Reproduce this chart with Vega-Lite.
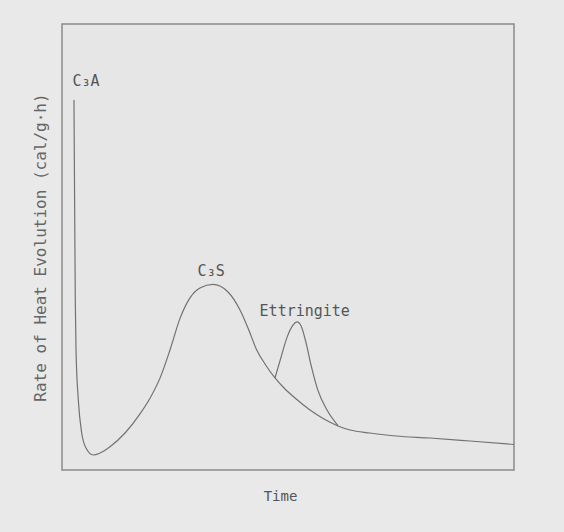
{
  "$schema": "https://vega.github.io/schema/vega-lite/v6.json",
  "width": 452,
  "height": 446,
  "autosize": {"type": "none"},
  "padding": {"left": 62, "top": 24, "right": 50, "bottom": 62},
  "background": "#e9e9e9",
  "config": {
    "view": {"stroke": "#8a8a8a", "strokeWidth": 1.5, "fill": "#e6e6e6"},
    "font": "DejaVu Sans Mono"
  },
  "datasets": {
    "curves": [
      {"series": "main", "t": 2.65, "rate": 82.96},
      {"series": "main", "t": 2.79, "rate": 60.54},
      {"series": "main", "t": 2.94, "rate": 38.12},
      {"series": "main", "t": 3.10, "rate": 26.91},
      {"series": "main", "t": 3.61, "rate": 15.70},
      {"series": "main", "t": 4.36, "rate": 8.30},
      {"series": "main", "t": 5.31, "rate": 4.93},
      {"series": "main", "t": 6.92, "rate": 3.36},
      {"series": "main", "t": 8.41, "rate": 3.81},
      {"series": "main", "t": 10.62, "rate": 5.22},
      {"series": "main", "t": 13.94, "rate": 8.30},
      {"series": "main", "t": 17.26, "rate": 12.6},
      {"series": "main", "t": 19.47, "rate": 16.1},
      {"series": "main", "t": 21.68, "rate": 20.6},
      {"series": "main", "t": 23.89, "rate": 26.9},
      {"series": "main", "t": 26.11, "rate": 34.0},
      {"series": "main", "t": 28.32, "rate": 38.6},
      {"series": "main", "t": 30.53, "rate": 40.8},
      {"series": "main", "t": 33.4, "rate": 41.6},
      {"series": "main", "t": 36.73, "rate": 39.91},
      {"series": "main", "t": 39.38, "rate": 35.87},
      {"series": "main", "t": 41.15, "rate": 31.84},
      {"series": "main", "t": 43.08, "rate": 26.91},
      {"series": "main", "t": 44.91, "rate": 23.77},
      {"series": "main", "t": 47.12, "rate": 20.63},
      {"series": "main", "t": 49.12, "rate": 18.39},
      {"series": "main", "t": 51.55, "rate": 16.14},
      {"series": "main", "t": 54.87, "rate": 13.45},
      {"series": "main", "t": 57.96, "rate": 11.43},
      {"series": "main", "t": 61.06, "rate": 9.87},
      {"series": "main", "t": 63.72, "rate": 8.97},
      {"series": "main", "t": 68.14, "rate": 8.30},
      {"series": "main", "t": 73.89, "rate": 7.62},
      {"series": "main", "t": 81.42, "rate": 7.17},
      {"series": "main", "t": 90.27, "rate": 6.50},
      {"series": "main", "t": 100, "rate": 5.72},
      {"series": "ettringite", "t": 47.12, "rate": 20.63},
      {"series": "ettringite", "t": 48.4, "rate": 25.1},
      {"series": "ettringite", "t": 49.8, "rate": 29.8},
      {"series": "ettringite", "t": 51.1, "rate": 32.5},
      {"series": "ettringite", "t": 52.0, "rate": 33.2},
      {"series": "ettringite", "t": 52.9, "rate": 32.3},
      {"series": "ettringite", "t": 54.0, "rate": 28.5},
      {"series": "ettringite", "t": 55.1, "rate": 23.5},
      {"series": "ettringite", "t": 56.6, "rate": 17.9},
      {"series": "ettringite", "t": 58.6, "rate": 13.5},
      {"series": "ettringite", "t": 61.06, "rate": 9.95}
    ],
    "labels": [
      {"label": "C₃A", "t": 5.3, "rate": 87.2},
      {"label": "C₃S", "t": 33.0, "rate": 44.6},
      {"label": "Ettringite", "t": 53.7, "rate": 35.7}
    ]
  },
  "encoding": {
    "x": {
      "field": "t", "type": "quantitative",
      "scale": {"domain": [0, 100], "nice": false, "zero": false},
      "axis": {
        "title": "Time", "ticks": false, "labels": false, "domain": false, "grid": false,
        "titleFont": "DejaVu Sans Mono", "titleFontSize": 14, "titleFontWeight": "normal",
        "titleColor": "#555555", "titlePadding": 19, "titleX": 218
      }
    },
    "y": {
      "field": "rate", "type": "quantitative",
      "scale": {"domain": [0, 100], "nice": false, "zero": false},
      "axis": {
        "title": "Rate of Heat Evolution (cal/g·h)", "ticks": false, "labels": false, "domain": false, "grid": false,
        "titleFont": "DejaVu Sans Mono", "titleFontSize": 16, "titleFontWeight": "normal",
        "titleColor": "#666666", "titlePadding": 14
      }
    }
  },
  "layer": [
    {
      "data": {"name": "curves"},
      "mark": {"type": "line", "interpolate": "monotone", "color": "#727272", "strokeWidth": 1.2},
      "encoding": {"detail": {"field": "series", "type": "nominal"}}
    },
    {
      "data": {"name": "labels"},
      "mark": {"type": "text", "font": "DejaVu Sans Mono", "fontSize": 15, "color": "#555555", "align": "center", "baseline": "middle"},
      "encoding": {"text": {"field": "label", "type": "nominal"}}
    }
  ]
}
